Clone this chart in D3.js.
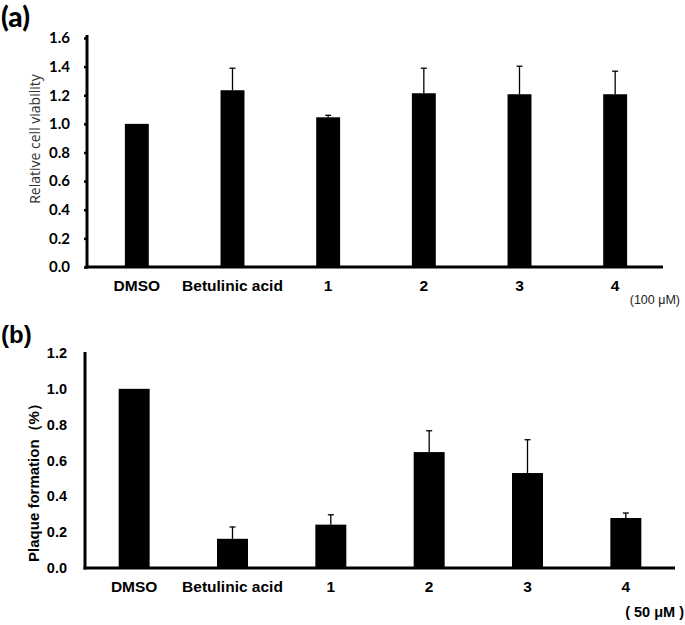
<!DOCTYPE html>
<html><head><meta charset="utf-8">
<script src="https://cdn.jsdelivr.net/npm/d3@7"></script>
<style>body{margin:0;background:#fff}</style>
</head><body>
<script>
const categories = ["DMSO", "Betulinic acid", "1", "2", "3", "4"];
const viability = [1.0, 1.235, 1.046, 1.214, 1.207, 1.207];
const viabilityErr = [0, 0.154, 0.014, 0.175, 0.196, 0.161];
const plaque = [1.0, 0.163, 0.242, 0.647, 0.530, 0.279];
const plaqueErr = [0, 0.066, 0.055, 0.119, 0.186, 0.028];
const ticksA = [0, 0.2, 0.4, 0.6, 0.8, 1.0, 1.2, 1.4, 1.6];
const ticksB = [0, 0.2, 0.4, 0.6, 0.8, 1.0, 1.2];

const svg = d3.select("body").append("svg").attr("width", 685).attr("height", 625);

function panel(cfg) {
  const g = svg.append("g");
  const x = d3.scaleBand().domain(categories).range(cfg.xr).paddingInner(cfg.pi).paddingOuter(cfg.pi / 2);
  const y = d3.scaleLinear().domain(cfg.yd).range(cfg.yr);
  g.selectAll("rect.bar").data(cfg.vals).join("rect")
    .attr("x", (d, i) => x(categories[i])).attr("width", x.bandwidth())
    .attr("y", d => y(d)).attr("height", d => y(0) - y(d)).attr("fill", "#000");
  cfg.vals.forEach((v, i) => {
    if (cfg.errs[i] <= 0.001) return;
    const cx = x(categories[i]) + x.bandwidth() / 2;
    g.append("line").attr("x1", cx).attr("x2", cx).attr("y1", y(v)).attr("y2", y(v + cfg.errs[i]))
      .attr("stroke", "#000").attr("stroke-width", 1.3);
    g.append("line").attr("x1", cx - cfg.cap).attr("x2", cx + cfg.cap)
      .attr("y1", y(v + cfg.errs[i])).attr("y2", y(v + cfg.errs[i]))
      .attr("stroke", "#000").attr("stroke-width", 1.3);
  });
  const ya = d3.axisLeft(y).tickValues(cfg.ticks).tickFormat(d3.format(".1f"))
    .tickSize(cfg.tickSize).tickPadding(cfg.tickPad);
  const yg = g.append("g").attr("transform", `translate(${cfg.ax},0)`).call(ya);
  yg.select(".domain").remove();
  yg.selectAll(".tick line").attr("stroke", "#000").attr("stroke-width", 2.5);
  yg.selectAll(".tick text").attr("font-family", cfg.tickFont).attr("font-weight", "bold")
    .attr("font-size", cfg.tickFs).attr("fill", "#000");
  g.append("line").attr("x1", cfg.ax).attr("x2", cfg.ax).attr("y1", cfg.axTop).attr("y2", y(0) + 1.5)
    .attr("stroke", "#000").attr("stroke-width", 3);
  g.append("line").attr("x1", cfg.ax - 1.5).attr("x2", cfg.xEnd).attr("y1", y(0)).attr("y2", y(0))
    .attr("stroke", "#000").attr("stroke-width", 3);
  const xa = d3.axisBottom(x).tickSize(0).tickPadding(cfg.xPad);
  const xg = g.append("g").attr("transform", `translate(0,${y(0)})`).call(xa);
  xg.select(".domain").remove();
  xg.selectAll(".tick text").attr("font-family", "Liberation Sans, Arial, sans-serif").attr("font-weight", "bold")
    .attr("font-size", 15.5).attr("fill", "#000");
  return {x, y, g};
}

panel({xr: [89, 663], pi: 0.75, yd: [0, 1.6], yr: [267, 38], vals: viability, errs: viabilityErr,
  ticks: ticksA, ax: 87, axTop: 35, xEnd: 663, tickSize: 3, tickPad: 14, tickFont: "Lato, Open Sans, sans-serif",
  tickFs: 15, cap: 3, xPad: 13});
panel({xr: [85, 675], pi: 0.685, yd: [0, 1.2], yr: [568, 353], vals: plaque, errs: plaqueErr,
  ticks: ticksB, ax: 85, axTop: 352, xEnd: 675, tickSize: 0, tickPad: 18, tickFont: "Liberation Sans, Arial, sans-serif",
  tickFs: 14.5, cap: 3, xPad: 13});

svg.append("text").attr("x", 1).attr("y", 27).text("(a)")
  .attr("font-family", "Lato, Open Sans, sans-serif").attr("font-weight", "900").attr("font-size", 28);
svg.append("text").attr("x", 1).attr("y", 343).text("(b)")
  .attr("font-family", "Liberation Sans, Arial, sans-serif").attr("font-weight", "bold").attr("font-size", 24);

svg.append("text").attr("transform", "translate(40,139) rotate(-90)").attr("text-anchor", "middle")
  .text("Relative cell viability").attr("font-family", "Open Sans, sans-serif").attr("font-size", 14).attr("fill", "#333");
svg.append("text").attr("transform", "translate(39,479) rotate(-90)").attr("text-anchor", "middle")
  .text("Plaque formation（%）").attr("font-family", "Liberation Sans, Arial, sans-serif").attr("font-weight", "bold").attr("font-size", 15);

svg.append("text").attr("x", 680).attr("y", 304).attr("text-anchor", "end").text("(100 μM)")
  .attr("font-family", "Liberation Sans, Arial, sans-serif").attr("font-size", 12.5).attr("fill", "#222");
svg.append("text").attr("x", 684).attr("y", 617).attr("text-anchor", "end").text("( 50 μM )")
  .attr("font-family", "Liberation Sans, Arial, sans-serif").attr("font-weight", "bold").attr("font-size", 14.5);
</script>
</body></html>
